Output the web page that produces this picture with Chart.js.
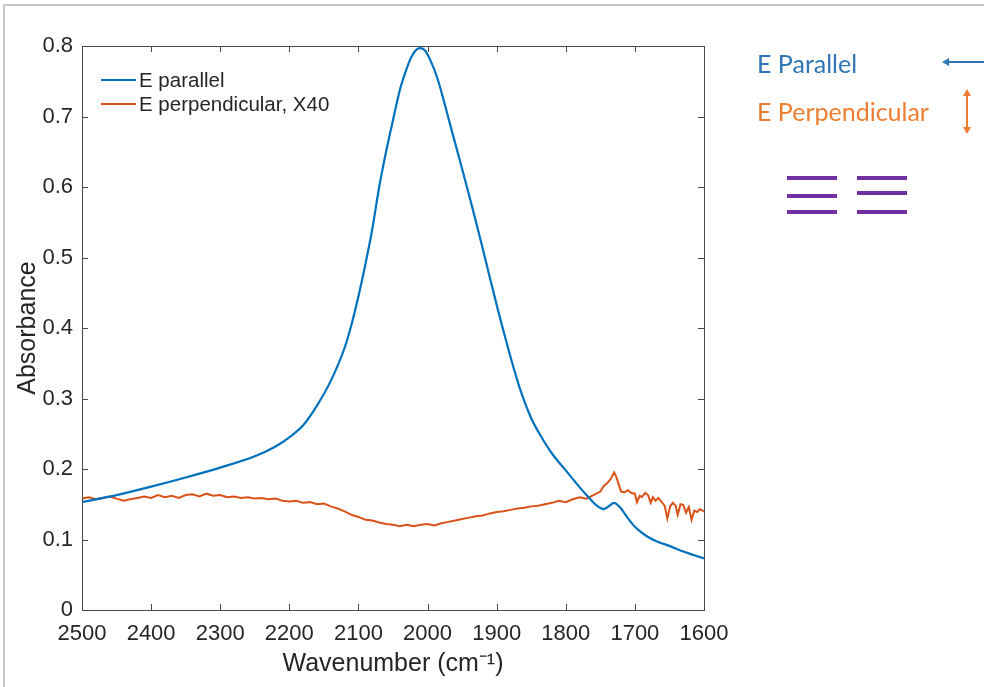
<!DOCTYPE html>
<html>
<head>
<meta charset="utf-8">
<script src="https://cdn.jsdelivr.net/npm/chart.js@4.4.0/dist/chart.umd.min.js"></script>
<style>
  html, body { margin: 0; padding: 0; background: #fff; }
  #wrap { width: 984px; height: 687px; }
</style>
</head>
<body>
<div id="wrap"><canvas id="spectrum" width="984" height="687"></canvas></div>
<script>
// IR absorbance, polarized along / across the sample
const parallelWn = [2500, 2450, 2400, 2350, 2300, 2250, 2220, 2200, 2180, 2160, 2140, 2120, 2110, 2100, 2090, 2080, 2070, 2060, 2050, 2040, 2033, 2025, 2018, 2011, 2004, 1996, 1986, 1975, 1965, 1955, 1946, 1935, 1922, 1910, 1898, 1885, 1875, 1865, 1850, 1835, 1820, 1800, 1785, 1770, 1755, 1745, 1738, 1730, 1722, 1710, 1700, 1685, 1668, 1650, 1630, 1615, 1600];
const parallelAbs = [0.153, 0.163, 0.175, 0.188, 0.202, 0.218, 0.232, 0.245, 0.262, 0.290, 0.325, 0.372, 0.405, 0.445, 0.490, 0.540, 0.600, 0.650, 0.695, 0.738, 0.760, 0.781, 0.793, 0.797, 0.794, 0.780, 0.755, 0.717, 0.680, 0.644, 0.611, 0.570, 0.520, 0.472, 0.425, 0.377, 0.342, 0.310, 0.272, 0.245, 0.222, 0.198, 0.180, 0.163, 0.148, 0.143, 0.147, 0.152, 0.146, 0.130, 0.118, 0.106, 0.097, 0.091, 0.083, 0.078, 0.073];

// perpendicular trace, already multiplied by 40
const perpWn = [2500, 2490, 2480, 2470, 2460, 2450, 2440, 2430, 2420, 2410, 2400, 2390, 2380, 2370, 2360, 2350, 2340, 2330, 2320, 2310, 2300, 2290, 2280, 2270, 2260, 2250, 2240, 2230, 2220, 2210, 2200, 2190, 2180, 2170, 2160, 2150, 2140, 2130, 2120, 2110, 2100, 2090, 2080, 2070, 2060, 2050, 2040, 2030, 2020, 2010, 2000, 1990, 1980, 1970, 1960, 1950, 1940, 1930, 1920, 1910, 1900, 1890, 1880, 1870, 1860, 1850, 1840, 1830, 1820, 1810, 1800, 1790, 1780, 1770, 1760, 1750, 1745, 1740, 1735, 1730, 1727, 1724, 1720, 1715, 1710, 1705, 1700, 1697, 1693, 1690, 1685, 1681, 1677, 1674, 1670, 1666, 1662, 1657, 1653, 1649, 1645, 1641, 1638, 1634, 1630, 1626, 1622, 1618, 1614, 1610, 1606, 1600];
const perpAbs = [0.158, 0.160, 0.157, 0.159, 0.161, 0.158, 0.155, 0.157, 0.159, 0.161, 0.159, 0.163, 0.160, 0.162, 0.159, 0.163, 0.164, 0.161, 0.165, 0.162, 0.163, 0.160, 0.161, 0.159, 0.160, 0.158, 0.159, 0.157, 0.158, 0.155, 0.154, 0.155, 0.152, 0.153, 0.150, 0.151, 0.147, 0.144, 0.140, 0.135, 0.132, 0.128, 0.127, 0.124, 0.122, 0.121, 0.119, 0.121, 0.119, 0.121, 0.122, 0.120, 0.123, 0.125, 0.127, 0.129, 0.131, 0.133, 0.134, 0.137, 0.139, 0.140, 0.142, 0.144, 0.145, 0.147, 0.148, 0.150, 0.152, 0.155, 0.153, 0.157, 0.160, 0.158, 0.163, 0.168, 0.176, 0.180, 0.186, 0.195, 0.189, 0.180, 0.168, 0.167, 0.170, 0.166, 0.165, 0.153, 0.162, 0.160, 0.166, 0.163, 0.152, 0.160, 0.155, 0.159, 0.154, 0.148, 0.130, 0.147, 0.152, 0.148, 0.135, 0.150, 0.149, 0.138, 0.146, 0.128, 0.141, 0.139, 0.143, 0.140];

const seriesLabels = ['E parallel', 'E perpendicular, X40'];
const xTicks = [2500, 2400, 2300, 2200, 2100, 2000, 1900, 1800, 1700, 1600];
const yTicks = [0, 0.1, 0.2, 0.3, 0.4, 0.5, 0.6, 0.7, 0.8];

const axisFont = 'Liberation Sans, Arial, sans-serif';

function toPoints(xs, ys) {
    return xs.map((x, i) => ({ x: x, y: ys[i] }));
}

// MATLAB-style box with inward ticks on all four sides
const axesBox = {
    id: 'axesBox',
    afterDraw(chart) {
        const { ctx, chartArea: a, scales } = chart;
        ctx.save();
        ctx.strokeStyle = '#4a4a4a';
        ctx.lineWidth = 1;
        ctx.strokeRect(a.left + 0.5, a.top + 0.5, a.right - a.left, a.bottom - a.top);
        ctx.beginPath();
        xTicks.forEach(v => {
            const px = Math.round(scales.x.getPixelForValue(v)) + 0.5;
            ctx.moveTo(px, a.bottom); ctx.lineTo(px, a.bottom - 6);
            ctx.moveTo(px, a.top); ctx.lineTo(px, a.top + 6);
        });
        yTicks.forEach(v => {
            const py = Math.round(scales.y.getPixelForValue(v)) + 0.5;
            ctx.moveTo(a.left, py); ctx.lineTo(a.left + 6, py);
            ctx.moveTo(a.right, py); ctx.lineTo(a.right - 6, py);
        });
        ctx.stroke();
        ctx.restore();
    }
};

// legend in the upper left corner of the plot
const innerLegend = {
    id: 'innerLegend',
    afterDraw(chart) {
        const { ctx, chartArea: a } = chart;
        ctx.save();
        ctx.font = '20.5px ' + axisFont;
        ctx.textBaseline = 'middle';
        chart.data.datasets.forEach((ds, i) => {
            const y = a.top + 34 + i * 24;
            ctx.strokeStyle = ds.borderColor;
            ctx.lineWidth = 2;
            ctx.beginPath();
            ctx.moveTo(a.left + 19, y);
            ctx.lineTo(a.left + 54, y);
            ctx.stroke();
            ctx.fillStyle = '#262626';
            ctx.fillText(ds.label, a.left + 57, y + 1);
        });
        ctx.restore();
    }
};

function arrowHead(ctx, x, y, dx, dy) {
    // dx, dy: unit direction the head points to
    const len = 7, half = 4;
    ctx.beginPath();
    ctx.moveTo(x, y);
    ctx.lineTo(x - dx * len - dy * half, y - dy * len + dx * half);
    ctx.lineTo(x - dx * len + dy * half, y - dy * len - dx * half);
    ctx.closePath();
    ctx.fill();
}

// polarization notes to the right of the plot, and the frame
const sideNotes = {
    id: 'sideNotes',
    afterDraw(chart) {
        const ctx = chart.ctx;
        ctx.save();

        ctx.strokeStyle = '#c8c8c8';
        ctx.lineWidth = 2;
        ctx.beginPath();
        ctx.moveTo(4, 700);
        ctx.lineTo(4, 5);
        ctx.lineTo(990, 5);
        ctx.stroke();

        ctx.font = '25px Lato, "Open Sans", sans-serif';
        ctx.textBaseline = 'alphabetic';
        ctx.fillStyle = '#2e75b6';
        ctx.fillText('E Parallel', 757, 73);
        ctx.fillStyle = '#ed7d31';
        ctx.fillText('E Perpendicular', 757, 121);

        // horizontal double arrow (runs off the right edge)
        ctx.strokeStyle = '#2e75b6';
        ctx.fillStyle = '#2e75b6';
        ctx.lineWidth = 2;
        ctx.beginPath();
        ctx.moveTo(946, 62);
        ctx.lineTo(995, 62);
        ctx.stroke();
        arrowHead(ctx, 942, 62, -1, 0);

        // vertical double arrow
        ctx.strokeStyle = '#ed7d31';
        ctx.fillStyle = '#ed7d31';
        ctx.beginPath();
        ctx.moveTo(967, 94);
        ctx.lineTo(967, 129);
        ctx.stroke();
        arrowHead(ctx, 967, 89, 0, -1);
        arrowHead(ctx, 967, 134, 0, 1);

        // layered stacks
        ctx.strokeStyle = '#7030a0';
        ctx.lineWidth = 4;
        ctx.beginPath();
        [178, 196, 212].forEach(y => { ctx.moveTo(787, y); ctx.lineTo(837, y); });
        [178, 193, 212].forEach(y => { ctx.moveTo(857, y); ctx.lineTo(907, y); });
        ctx.stroke();

        ctx.restore();
    }
};

const ctx = document.getElementById('spectrum').getContext('2d');
const spectrumChart = new Chart(ctx, {
    type: 'line',
    data: {
        datasets: [{
            label: seriesLabels[0],
            data: toPoints(parallelWn, parallelAbs),
            borderColor: '#0072bd',
            borderWidth: 2.2,
            pointRadius: 0,
            cubicInterpolationMode: 'monotone',
            fill: false
        }, {
            label: seriesLabels[1],
            data: toPoints(perpWn, perpAbs),
            borderColor: '#d95319',
            borderWidth: 2,
            pointRadius: 0,
            tension: 0,
            fill: false
        }]
    },
    options: {
        responsive: false,
        animation: false,
        layout: { padding: { top: 46, right: 280, bottom: 0, left: 0 } },
        plugins: {
            legend: { display: false },
            tooltip: { enabled: false }
        },
        scales: {
            x: {
                type: 'linear',
                reverse: true,
                min: 1600,
                max: 2500,
                grid: { display: false, drawTicks: false },
                border: { display: false },
                afterBuildTicks: s => { s.ticks = xTicks.map(v => ({ value: v })); },
                afterFit: s => { s.height = 77; },
                ticks: {
                    padding: 11,
                    maxRotation: 0,
                    autoSkip: false,
                    color: '#262626',
                    font: { family: axisFont, size: 22 },
                    callback: v => String(v)
                },
                title: {
                    display: true,
                    text: 'Wavenumber (cm⁻¹)',
                    color: '#262626',
                    font: { family: axisFont, size: 25 },
                    padding: { top: 0, bottom: 8 }
                }
            },
            y: {
                min: 0,
                max: 0.8,
                grid: { display: false, drawTicks: false },
                border: { display: false },
                afterBuildTicks: s => { s.ticks = yTicks.map(v => ({ value: v })); },
                afterFit: s => { s.width = 82; },
                ticks: {
                    padding: 9,
                    autoSkip: false,
                    color: '#262626',
                    font: { family: axisFont, size: 22 },
                    callback: v => (v === 0 ? '0' : v.toFixed(1))
                },
                title: {
                    display: true,
                    text: 'Absorbance',
                    color: '#262626',
                    font: { family: axisFont, size: 25 },
                    padding: { top: 13, bottom: 0 }
                }
            }
        }
    },
    plugins: [axesBox, innerLegend, sideNotes]
});
</script>
</body>
</html>
